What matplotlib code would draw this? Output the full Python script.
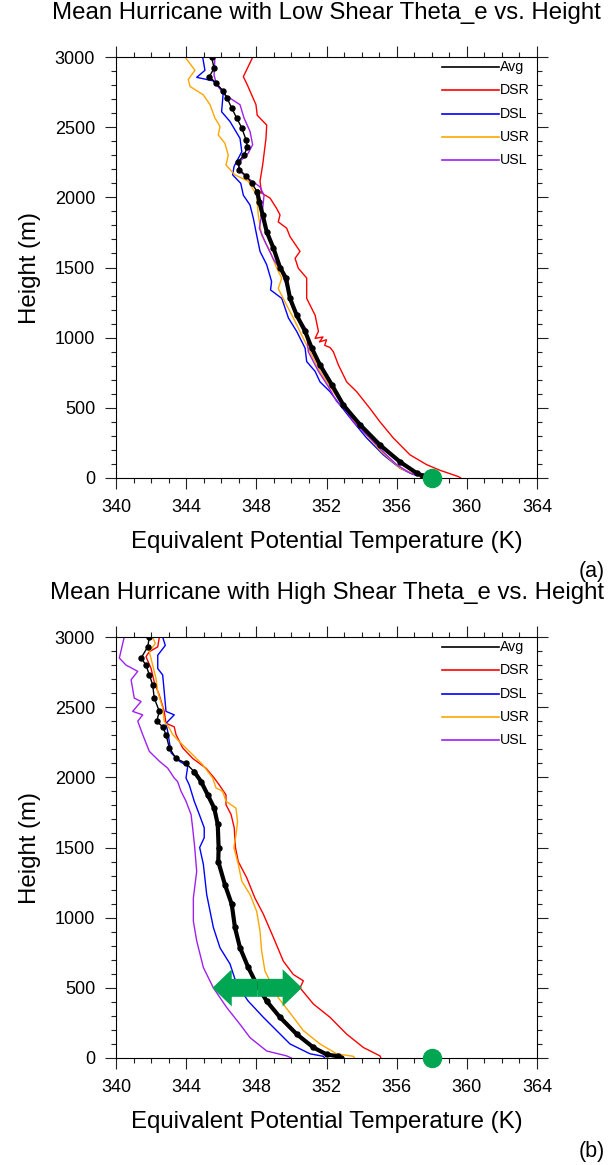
import matplotlib
matplotlib.use('Agg')
import matplotlib.pyplot as plt
from matplotlib.ticker import MultipleLocator
from matplotlib.lines import Line2D

plt.rcParams['font.family'] = ['Liberation Sans', 'DejaVu Sans']

### Dados (theta_e em K, altura em m)

# Cisalhamento fraco (a)
low_avg_k = [345.45, 345.59, 345.32, 345.70, 346.12, 346.34, 346.60, 346.88, 347.17, 347.41, 347.49, 347.30,
             346.97, 347.03, 347.41, 347.74, 348.05, 348.17, 348.36, 348.59, 348.97, 349.35, 349.69, 349.92,
             350.30, 350.78, 351.16, 351.63, 352.30, 352.96, 353.91, 355.05, 356.19, 357.14, 357.52, 357.75]
low_avg_h = [3000, 2920, 2860, 2815, 2755, 2705, 2635, 2565, 2495, 2410, 2360, 2300,
             2255, 2195, 2155, 2100, 2040, 1970, 1875, 1755, 1640, 1500, 1425, 1280,
             1160, 1045, 925, 805, 665, 520, 380, 235, 115, 35, 15, 0]

low_dsr_k = [347.80, 347.26, 347.49, 347.98, 348.05, 348.59, 348.55, 348.36, 348.21, 348.30, 348.78, 349.16,
             349.35, 349.25, 349.73, 349.92, 350.49, 350.21, 350.39, 350.87, 350.87, 351.35, 351.54, 351.35,
             351.80, 351.60, 352.00, 351.90, 352.20, 352.39, 352.68, 353.15, 353.72, 354.48, 355.05, 355.81,
             356.76, 357.71, 358.47, 359.52, 359.65]
low_dsr_h = [3000, 2860, 2800, 2660, 2585, 2515, 2420, 2230, 2115, 2030, 1995, 1920,
             1875, 1825, 1780, 1720, 1615, 1565, 1495, 1425, 1280, 1160, 1045, 995,
             1005, 970, 985, 945, 930, 900, 805, 685, 615, 495, 400, 285,
             165, 95, 55, 10, 0]

low_dsl_k = [344.94, 345.07, 344.60, 345.54, 346.12, 346.02, 346.50, 347.07, 347.17, 346.73, 346.65, 347.11,
             347.26, 347.64, 347.83, 348.02, 348.21, 348.59, 348.87, 348.81, 349.45, 349.83, 350.30, 350.78,
             350.87, 351.35, 351.63, 352.20, 352.77, 353.53, 354.29, 355.24, 356.19, 356.95, 357.43, 357.55]
low_dsl_h = [3000, 2905, 2855, 2830, 2755, 2610, 2540, 2420, 2325, 2220, 2160, 2100,
             2015, 1945, 1850, 1730, 1615, 1520, 1400, 1340, 1280, 1140, 1045, 925,
             830, 760, 685, 615, 520, 400, 285, 165, 70, 25, 15, 0]

low_usr_k = [343.93, 344.50, 344.12, 344.22, 344.98, 345.36, 345.64, 345.93, 345.83, 346.21, 346.40, 346.27,
             346.78, 347.54, 348.02, 348.11, 348.30, 348.78, 349.16, 349.45, 349.25, 349.63, 350.11, 350.58,
             351.06, 351.63, 352.39, 353.15, 354.10, 355.15, 356.19, 357.14, 357.50]
low_usr_h = [3000, 2905, 2840, 2790, 2730, 2660, 2565, 2505, 2445, 2385, 2300, 2230,
             2160, 2115, 2015, 1875, 1730, 1615, 1495, 1425, 1350, 1255, 1140, 1020,
             900, 760, 615, 475, 330, 185, 70, 20, 0]

low_usl_k = [345.64, 345.59, 345.74, 346.21, 347.07, 347.30, 347.64, 347.79, 347.54, 347.07, 346.97, 347.54,
             348.21, 348.44, 348.36, 348.17, 348.49, 348.97, 349.40, 349.83, 350.30, 350.87, 350.96, 351.54,
             352.11, 352.58, 353.15, 353.53, 354.48, 355.24, 356.00, 356.76, 357.33, 357.40]
low_usl_h = [3000, 2870, 2800, 2730, 2660, 2565, 2470, 2375, 2315, 2255, 2195, 2135,
             2075, 2015, 1920, 1780, 1685, 1560, 1480, 1330, 1160, 1055, 900, 760,
             650, 545, 475, 400, 285, 185, 95, 35, 15, 0]

# Cisalhamento forte (b)
high_avg_k = [341.90, 341.81, 341.43, 341.71, 341.90, 342.09, 342.18, 342.47, 342.32, 342.66, 342.85, 343.04,
              343.42, 343.99, 344.46, 344.85, 345.23, 345.60, 345.80, 345.85, 345.83, 346.21, 346.60, 346.78,
              347.07, 347.54, 348.02, 348.59, 349.35, 350.30, 351.25, 352.01, 352.67, 352.80]
high_avg_h = [3000, 2930, 2850, 2800, 2730, 2660, 2565, 2470, 2400, 2360, 2305, 2210,
              2135, 2100, 2040, 1970, 1875, 1780, 1665, 1500, 1400, 1235, 1095, 930,
              785, 645, 525, 405, 290, 170, 75, 25, 12, 0]

high_dsr_k = [342.47, 342.38, 341.90, 341.71, 342.00, 342.18, 342.47, 342.75, 342.85, 343.32, 343.42, 343.80,
              344.37, 345.13, 345.60, 345.89, 346.27, 346.27, 346.56, 346.74, 346.81, 346.97, 347.45, 347.92,
              348.40, 348.97, 349.54, 350.11, 350.68, 350.49, 351.25, 352.20, 353.15, 354.10, 355.05, 355.10]
high_dsr_h = [3000, 2930, 2895, 2860, 2775, 2680, 2585, 2470, 2385, 2360, 2305, 2210,
              2135, 2065, 1995, 1945, 1875, 1805, 1735, 1640, 1500, 1400, 1285, 1140,
              1025, 860, 690, 595, 550, 500, 385, 290, 170, 75, 15, 0]

high_dsl_k = [342.66, 342.81, 342.38, 342.38, 342.66, 342.75, 342.85, 343.32, 342.85, 342.95, 343.04, 343.14,
              343.61, 344.09, 343.99, 344.18, 344.46, 344.75, 345.03, 345.03, 344.77, 344.98, 345.17, 345.55,
              345.93, 346.50, 346.88, 347.54, 348.40, 349.16, 349.92, 351.06, 351.82, 351.90]
high_dsl_h = [3000, 2940, 2870, 2775, 2730, 2610, 2470, 2445, 2385, 2325, 2255, 2175,
              2115, 2080, 1995, 1945, 1830, 1735, 1640, 1570, 1500, 1380, 1165, 930,
              785, 670, 525, 405, 290, 195, 100, 30, 12, 0]

high_usr_k = [342.09, 342.24, 341.90, 342.09, 342.28, 342.38, 342.66, 342.75, 343.04, 343.23, 343.61, 344.18,
              344.94, 345.51, 345.70, 346.08, 346.27, 346.84, 346.93, 346.84, 346.72, 346.97, 347.17, 347.64,
              348.02, 348.21, 348.30, 348.49, 349.25, 350.11, 350.68, 351.63, 352.58, 353.53, 353.60]
high_usr_h = [3000, 2955, 2895, 2800, 2705, 2610, 2495, 2400, 2350, 2305, 2255, 2185,
              2090, 1995, 1925, 1900, 1830, 1780, 1685, 1590, 1500, 1380, 1260, 1165,
              1045, 905, 765, 620, 430, 290, 195, 100, 30, 12, 0]

high_usl_k = [340.47, 340.19, 340.57, 341.24, 340.86, 341.04, 341.43, 340.95, 341.52, 341.24, 341.52, 341.90,
              342.47, 342.95, 343.32, 343.51, 343.71, 343.99, 344.28, 344.37, 344.48, 344.60, 344.41, 344.41,
              344.60, 344.98, 345.55, 346.31, 347.07, 347.64, 348.59, 349.73, 350.00]
high_usl_h = [3000, 2850, 2800, 2755, 2695, 2565, 2540, 2470, 2445, 2400, 2305, 2185,
              2115, 2065, 1995, 1970, 1900, 1830, 1735, 1640, 1510, 1330, 1140, 975,
              835, 645, 500, 360, 240, 145, 50, 15, 0]

# Marcadores de destaque
surface_k, surface_h = 358.0, 0
arrow_left_k, arrow_right_k, arrow_h = 345.5, 350.6, 500

legend_labels = ['Avg', 'DSR', 'DSL', 'USR', 'USL']
line_colors = ['black', '#ff0000', '#0000ff', '#ffa500', '#a020f0']
green = '#00a651'

titles = ['Mean Hurricane with Low Shear Theta_e vs. Height',
          'Mean Hurricane with High Shear Theta_e vs. Height']
panel_tags = ['(a)', '(b)']

panels = [
    [(low_avg_k, low_avg_h), (low_dsr_k, low_dsr_h), (low_dsl_k, low_dsl_h),
     (low_usr_k, low_usr_h), (low_usl_k, low_usl_h)],
    [(high_avg_k, high_avg_h), (high_dsr_k, high_dsr_h), (high_dsl_k, high_dsl_h),
     (high_usr_k, high_usr_h), (high_usl_k, high_usl_h)],
]

### Figura

W, H = 608, 1165
fig = plt.figure(figsize=(W / 100, H / 100), dpi=100)

axes_top_px = [57, 637]
AX_LEFT, AX_SIZE = 116, 421

for i, curves in enumerate(panels):
    top = axes_top_px[i]
    ax = fig.add_axes([AX_LEFT / W, 1 - (top + AX_SIZE) / H, AX_SIZE / W, AX_SIZE / H])

    # linhas dos quadrantes (desenha a média por cima)
    for (k, h), c in list(zip(curves, line_colors))[1:]:
        ax.plot(k, h, color=c, lw=1.0)
    avg_k, avg_h = curves[0]
    ax.plot(avg_k, avg_h, color='black', lw=1.0, marker='o', ms=3.6, zorder=5)
    dense = [j for j, hh in enumerate(avg_h) if hh <= 2050]
    ax.plot([avg_k[j] for j in dense], [avg_h[j] for j in dense], color='black', lw=3.0, zorder=5)

    # ponto verde na superfície
    ax.plot(surface_k, surface_h, 'o', color=green, ms=13, clip_on=False, zorder=10)

    if i == 1:
        mid = (arrow_left_k + arrow_right_k) / 2
        for end in (arrow_left_k, arrow_right_k):
            ax.arrow(mid, arrow_h, end - mid, 0, width=128, head_width=265, head_length=1.1,
                     length_includes_head=True, color=green, lw=0, zorder=11)

    ax.set_xlim(340, 364)
    ax.set_ylim(0, 3000)
    ax.xaxis.set_major_locator(MultipleLocator(4))
    ax.xaxis.set_minor_locator(MultipleLocator(1))
    ax.yaxis.set_major_locator(MultipleLocator(500))
    ax.yaxis.set_minor_locator(MultipleLocator(100))
    ax.tick_params(which='both', direction='out', top=True, right=True, width=0.8, color='#222222')
    ax.tick_params(which='major', length=8, labelsize=13, pad=7)
    ax.tick_params(which='minor', length=3.8)
    for s in ax.spines.values():
        s.set_linewidth(0.8)

    ax.set_xlabel('Equivalent Potential Temperature (K)', fontsize=17.3)
    ax.xaxis.label.set_va('baseline')
    ax.xaxis.set_label_coords(0.5, -70 / AX_SIZE)
    ax.set_ylabel('Height (m)', fontsize=17.3)
    ax.yaxis.label.set_va('center')
    ax.yaxis.set_label_coords((30 - AX_LEFT) / AX_SIZE, 0.5)

    ax.set_title(titles[i], fontsize=17.3, y=1 + 30 / AX_SIZE, va='baseline')

    # legenda desenhada à mão, no estilo NCL
    for r, (lab, c) in enumerate(zip(legend_labels, line_colors)):
        yy = 1 - (10 + r * 23.3) / AX_SIZE
        ax.add_line(Line2D([0.774, 0.910], [yy, yy], transform=ax.transAxes, color=c, lw=1.2))
        ax.text(0.913, yy, lab, transform=ax.transAxes, fontsize=10.2, va='center', ha='left')

    fig.text(605 / W, 1 - (top + 520) / H, panel_tags[i], fontsize=15.5, ha='right', va='baseline')

fig.savefig('out.png', dpi=100)
